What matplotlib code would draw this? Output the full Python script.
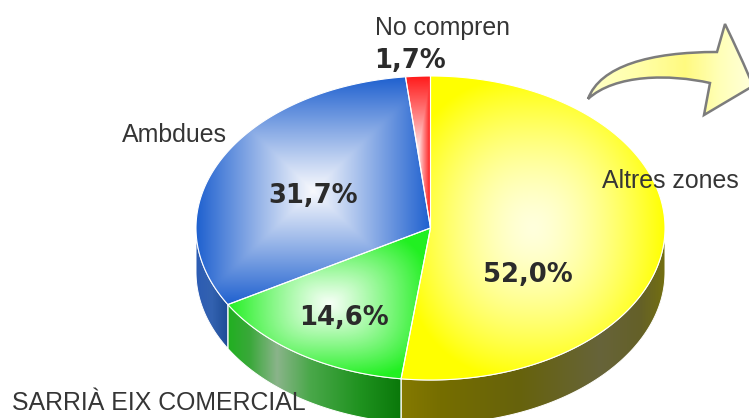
import numpy as np
import matplotlib
matplotlib.use("Agg")
import matplotlib.pyplot as plt
from matplotlib.patches import Polygon, PathPatch
from matplotlib.path import Path
from matplotlib.colors import to_rgb

# ---- data -------------------------------------------------------------
categories = ["Altres zones", "SARRIÀ EIX COMERCIAL", "Ambdues", "No compren"]
shares = [52.0, 14.6, 31.7, 1.7]

# ---- styling ----------------------------------------------------------
edge_colors = ["#FFFF00", "#22F022", "#1E60CF", "#FF1A1A"]
center_colors = ["#FFFFDC", "#F6FFF6", "#F8F9FD", "#FFF6F6"]
norm_power = [2.4, 3.0, 40.0, 40.0]
shade_gamma = [1.5, 1.1, 1.05, 0.9]
wall_stops = {
    0: [(401, "#857a00"), (440, "#766e00"), (520, "#66620c"), (600, "#67643a"),
        (640, "#646028"), (666, "#747010")],
    1: [(227, "#1fb01f"), (250, "#3aa83a"), (277, "#8ab48a"), (310, "#4aa84a"),
        (360, "#1f921f"), (401, "#0a780a")],
    2: [(196, "#2c5cb4"), (212, "#3362b0"), (227, "#1f4d98")],
    3: [(405, "#c01010"), (430, "#a00000")],
}

W, H = 749, 418
cx, cy, ra, rb, depth = 430.5, 228.0, 234.5, 152.0, 44.0
start_angle = 90.0

fig = plt.figure(figsize=(W / 100, H / 100), dpi=100)
ax = fig.add_axes([0, 0, 1, 1])
ax.set_xlim(0, W)
ax.set_ylim(H, 0)
ax.axis("off")

X, Y = np.meshgrid(np.arange(W) + 0.5, np.arange(H) + 0.5)
extent = (0, W, H, 0)


def arc(t_from, t_to, dy=0.0, n=240):
    ts = np.radians(np.linspace(t_from, t_to, n))
    return np.column_stack([cx + ra * np.cos(ts), cy - rb * np.sin(ts) + dy])


def horizontal_gradient(stops):
    xs = np.array([s[0] for s in stops], float)
    cols = np.array([to_rgb(s[1]) for s in stops])
    xg = np.arange(W) + 0.5
    img = np.stack([np.interp(xg, xs, cols[:, k]) for k in range(3)], axis=-1)
    return img[np.newaxis, :, :]


# angular ranges (clockwise from the top)
total = sum(shares)
bounds = []
t = start_angle
for v in shares:
    t_next = t - 360.0 * v / total
    bounds.append((t, t_next))
    t = t_next

# ---- side walls (front half only) --------------------------------------
for i, (t0, t1) in enumerate(bounds):
    for shift in (-360, 0, 360):
        lo = max(t1, -180 + shift)
        hi = min(t0, 0 + shift)
        if lo >= hi:
            continue
        top = arc(hi, lo)
        bottom = arc(lo, hi, dy=depth)
        poly = Polygon(np.vstack([top, bottom]), closed=True,
                       facecolor="none", edgecolor="none")
        ax.add_patch(poly)
        im = ax.imshow(horizontal_gradient(wall_stops[i]), extent=extent,
                       aspect="auto", interpolation="bilinear", zorder=1)
        im.set_clip_path(poly)
        ax.add_patch(Polygon(np.vstack([top, bottom]), closed=True,
                             facecolor="none", edgecolor="white",
                             linewidth=0.7, zorder=1.5))

# ---- top faces --------------------------------------------------------
for i, (t0, t1) in enumerate(bounds):
    pts = np.vstack([[cx, cy], arc(t0, t1)])
    xmin, ymin = pts.min(axis=0)
    xmax, ymax = pts.max(axis=0)
    xc, yc = (xmin + xmax) / 2, (ymin + ymax) / 2
    hx, hy = (xmax - xmin) / 2, (ymax - ymin) / 2
    p = norm_power[i]
    d = ((np.abs(X - xc) / hx) ** p + (np.abs(Y - yc) / hy) ** p) ** (1 / p)
    f = np.clip(d, 0, 1) ** shade_gamma[i]
    c_in = np.array(to_rgb(center_colors[i]))
    c_out = np.array(to_rgb(edge_colors[i]))
    img = c_in + (c_out - c_in) * f[..., None]
    poly = Polygon(pts, closed=True, facecolor="none", edgecolor="none")
    ax.add_patch(poly)
    im = ax.imshow(img, extent=extent, aspect="auto",
                   interpolation="bilinear", zorder=2)
    im.set_clip_path(poly)
    ax.add_patch(Polygon(pts, closed=True, facecolor="none",
                         edgecolor="white", linewidth=0.8, zorder=2.5))

# ---- labels -----------------------------------------------------------
reg = dict(family="Liberation Sans", fontsize=17.9, color="#353535", zorder=5)
bold = dict(family="DejaVu Sans", fontweight="bold", fontsize=18.6,
            color="#2b2b2b", zorder=5)
pct = [f"{v:.1f}%".replace(".", ",") for v in shares]

ax.text(602, 188, categories[0], ha="left", va="baseline", **reg)
ax.text(12, 410, categories[1], ha="left", va="baseline", **reg)
ax.text(122, 142, categories[2], ha="left", va="baseline", **reg)
ax.text(442.5, 35.5, categories[3], ha="center", va="baseline", **reg)

ax.text(528, 282, pct[0], ha="center", va="baseline", **bold)
ax.text(344, 325, pct[1], ha="center", va="baseline", **bold)
ax.text(313, 203, pct[2], ha="center", va="baseline", **bold)
ax.text(410, 68, pct[3], ha="center", va="baseline", **bold)

# ---- curved arrow -----------------------------------------------------
verts = [
    (588, 99),
    (600, 66), (650, 52), (717, 52),
    (725, 24),
    (735, 45), (745, 66), (753, 86),
    (704, 115),
    (710, 83),
    (670, 74), (615, 74), (588, 99),
    (588, 99),
]
codes = [Path.MOVETO,
         Path.CURVE4, Path.CURVE4, Path.CURVE4,
         Path.LINETO,
         Path.CURVE4, Path.CURVE4, Path.CURVE4,
         Path.LINETO,
         Path.LINETO,
         Path.CURVE4, Path.CURVE4, Path.CURVE4,
         Path.CLOSEPOLY]
arrow_path = Path(verts, codes)
arrow_clip = PathPatch(arrow_path, facecolor="none", edgecolor="none")
ax.add_patch(arrow_clip)
arrow_fill = horizontal_gradient([(588, "#FFFFC8"), (640, "#FFFFA8"),
                                  (685, "#FFFA80"), (720, "#FFFFB8"),
                                  (750, "#FFFFD8")])
im = ax.imshow(arrow_fill, extent=extent, aspect="auto",
               interpolation="bilinear", zorder=3)
im.set_clip_path(arrow_clip)
ax.add_patch(PathPatch(arrow_path, facecolor="none", edgecolor="#7c7c7c",
                       linewidth=1.8, joinstyle="miter", zorder=3.5))

fig.savefig("out.png", dpi=100)
